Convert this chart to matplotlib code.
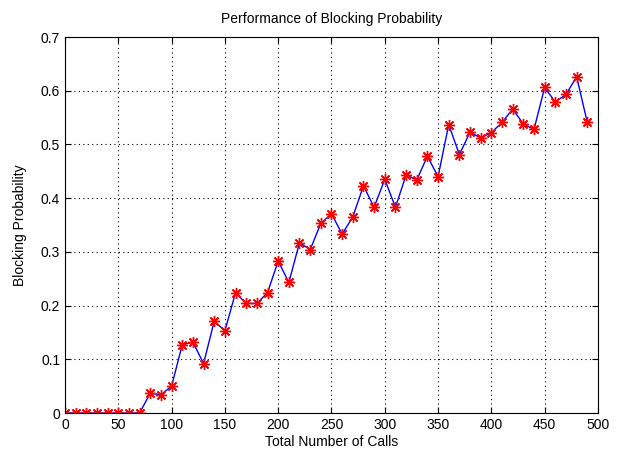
import matplotlib
matplotlib.use("Agg")
import matplotlib.pyplot as plt
import numpy as np

plt.rcParams['font.family'] = ['Liberation Sans', 'DejaVu Sans']

# total number of calls
calls = np.arange(0, 500, 10)
# blocking probability
blocking = [0, 0, 0, 0, 0, 0, 0, 0,
            0.037, 0.034, 0.050, 0.127, 0.132, 0.092, 0.171, 0.153,
            0.224, 0.204, 0.204, 0.224, 0.283, 0.243, 0.317, 0.304,
            0.353, 0.371, 0.333, 0.365, 0.423, 0.383, 0.435, 0.383,
            0.443, 0.434, 0.478, 0.440, 0.537, 0.481, 0.523, 0.512,
            0.522, 0.541, 0.566, 0.538, 0.528, 0.606, 0.579, 0.593,
            0.626, 0.541]

fig = plt.figure(figsize=(6.19, 4.54), dpi=100)
ax = fig.add_axes([0.105, 0.0903, 0.861, 0.8282])

ax.plot(calls, blocking, color='blue', linewidth=1,
        marker=(8, 2, 0), markersize=8, markeredgecolor='red',
        markeredgewidth=1.0, markerfacecolor='red')

ax.set_xlim(0, 500)
ax.set_ylim(0, 0.7)
ax.set_xticks(np.arange(0, 501, 50))
ax.set_yticks(np.arange(0, 0.71, 0.1))
ax.set_yticklabels(['0', '0.1', '0.2', '0.3', '0.4', '0.5', '0.6', '0.7'])
ax.grid(True, color='black', linestyle=(0, (1, 3)), linewidth=0.8)
ax.tick_params(direction='in', top=True, right=True, labelsize=10, length=4)
for s in ax.spines.values():
    s.set_linewidth(0.8)

ax.set_xlabel("Total Number of Calls", fontsize=10, labelpad=2)
ax.set_ylabel("Blocking Probability", fontsize=10, labelpad=10)
ax.set_title("Performance of Blocking Probability", fontsize=10, pad=10)

fig.savefig("out.png", dpi=100)
